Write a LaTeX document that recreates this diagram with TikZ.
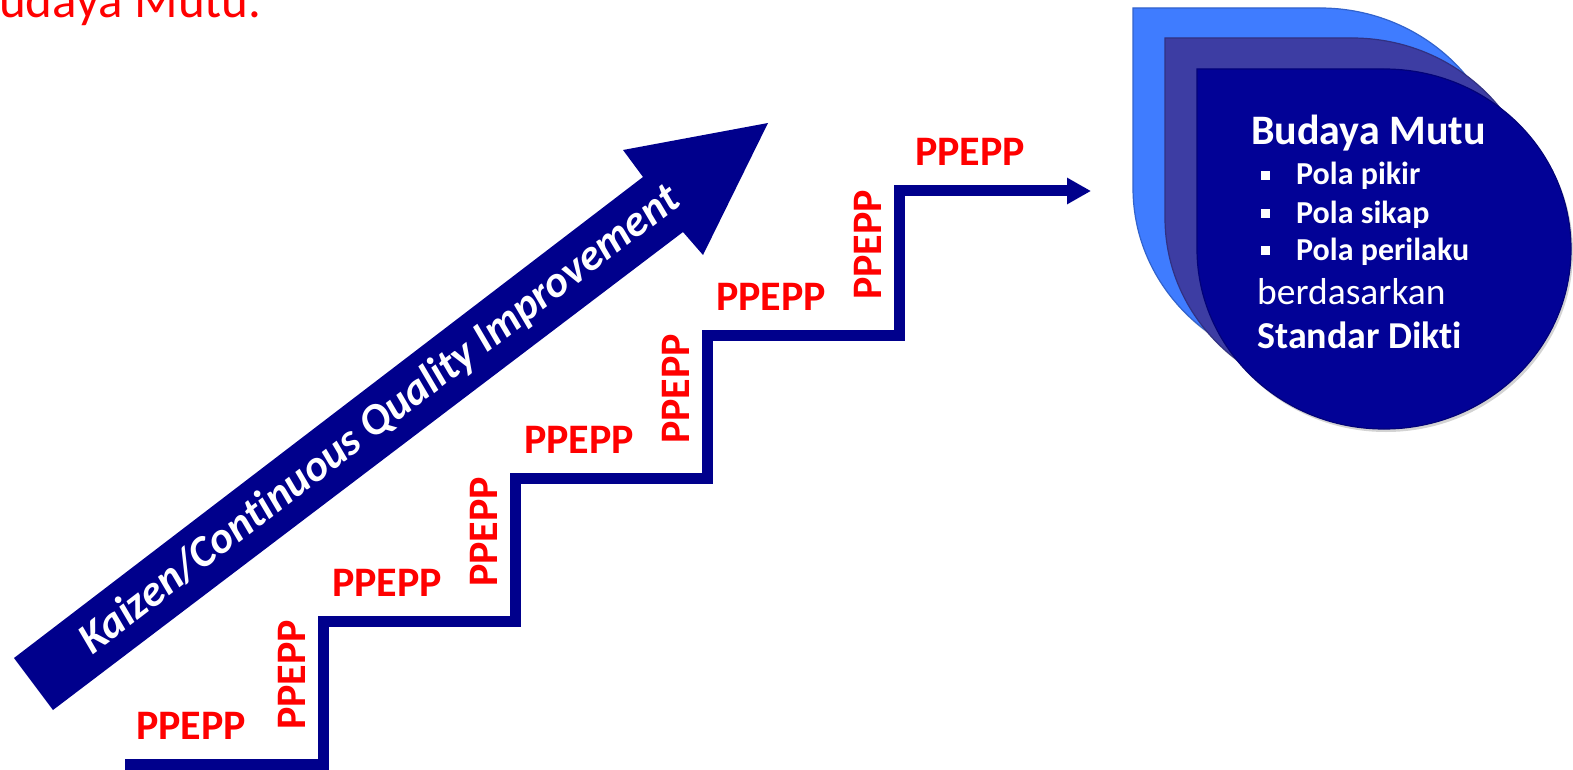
\documentclass[tikz,border=0pt]{standalone}
\usepackage{fontspec}
\setmainfont{Carlito}[Ligatures={NoCommon}]
\usetikzlibrary{arrows.meta,shadows}
\definecolor{navy}{RGB}{0,0,140}
\definecolor{cardA}{RGB}{63,124,255}
\definecolor{cardB}{RGB}{61,61,163}
\definecolor{cardC}{RGB}{2,2,150}
\definecolor{pred}{RGB}{255,0,0}
\begin{document}
\begin{tikzpicture}[x=1pt,y=-1pt,
  lbl/.style={text=pred,font=\fontsize{42}{42}\selectfont\bfseries,inner sep=0pt,anchor=base},
  vlbl/.style={lbl,rotate=90},
  stair/.style={draw=navy,line width=11pt,line join=miter,-{Triangle[length=24pt,width=25pt]}},
  cardshape/.style={line width=1.2pt,drop shadow={shadow xshift=2pt,shadow yshift=-3pt,opacity=0.35}},
  cardtxt/.style={text=white,inner sep=0pt,anchor=base west}]
\useasboundingbox (0,0) rectangle (1573,770);
\clip (0,0) rectangle (1573,770);

% title fragment
\node[text=pred,font=\fontsize{51}{51}\selectfont,inner sep=0pt,anchor=base west] (title) at (-1,18) {udaya Mutu.};

% big arrow
\fill[navy] (14,658) -- (643,177) -- (623,150) -- (768,123) -- (703,255) -- (683,232) -- (53,710) -- cycle;
\node[text=white,font=\fontsize{44}{44}\selectfont\bfseries\itshape,rotate=37.4,inner sep=0pt] (kaizen) at (380,420) {Kaizen/Continuous Quality Improvement};

% staircase
\coordinate (s0) at (125,764);
\coordinate (s1) at (323,764);
\coordinate (s2) at (323,621);
\coordinate (s3) at (515,621);
\coordinate (s4) at (515,478);
\coordinate (s5) at (707,478);
\coordinate (s6) at (707,335);
\coordinate (s7) at (899,335);
\coordinate (s8) at (899,191);
\coordinate (s9) at (1091,191);
\draw[stair] (s0) -- (s1) -- (s2) -- (s3) -- (s4) -- (s5) -- (s6) -- (s7) -- (s8) -- (s9);

% horizontal labels
\node[lbl] (h1) at (191,739) {PPEPP};
\node[lbl] (h2) at (387,596) {PPEPP};
\node[lbl] (h3) at (579,453) {PPEPP};
\node[lbl] (h4) at (771,310) {PPEPP};
\node[lbl] (h5) at (970,166) {PPEPP};
% vertical labels
\node[vlbl] (v1) at (305,675) {PPEPP};
\node[vlbl] (v2) at (497,532) {PPEPP};
\node[vlbl] (v3) at (689,389) {PPEPP};
\node[vlbl] (v4) at (881,245) {PPEPP};

% cards
\path[cardshape,fill=cardA,draw=cardA!80!black] (1133,8) -- (1320,8) arc[start angle=-90,end angle=180,x radius=187,y radius=180] -- cycle;
\path[cardshape,fill=cardB,draw=cardB!80!black] (1165,38) -- (1352,38) arc[start angle=-90,end angle=180,x radius=187,y radius=180] -- cycle;
\path[cardshape,fill=cardC,draw=cardC!80!black] (1197,69) -- (1384,69) arc[start angle=-90,end angle=180,x radius=187,y radius=180] -- cycle;

\node[cardtxt,font=\fontsize{42}{42}\selectfont\bfseries] (bm) at (1251,145) {Budaya Mutu};
\node[cardtxt,font=\fontsize{32}{32}\selectfont\bfseries] (p1) at (1261,185) {\rule[5pt]{9pt}{9pt}\hspace{26pt}Pola pikir};
\node[cardtxt,font=\fontsize{32}{32}\selectfont\bfseries] (p2) at (1261,223) {\rule[5pt]{9pt}{9pt}\hspace{26pt}Pola sikap};
\node[cardtxt,font=\fontsize{32}{32}\selectfont\bfseries] (p3) at (1261,260) {\rule[5pt]{9pt}{9pt}\hspace{26pt}Pola perilaku};
\node[cardtxt,font=\fontsize{37.5}{37.5}\selectfont] (bd) at (1257,304) {berdasarkan};
\node[cardtxt,font=\fontsize{38}{38}\selectfont\bfseries] (sd) at (1257,348) {Standar Dikti};
\end{tikzpicture}
\end{document}
